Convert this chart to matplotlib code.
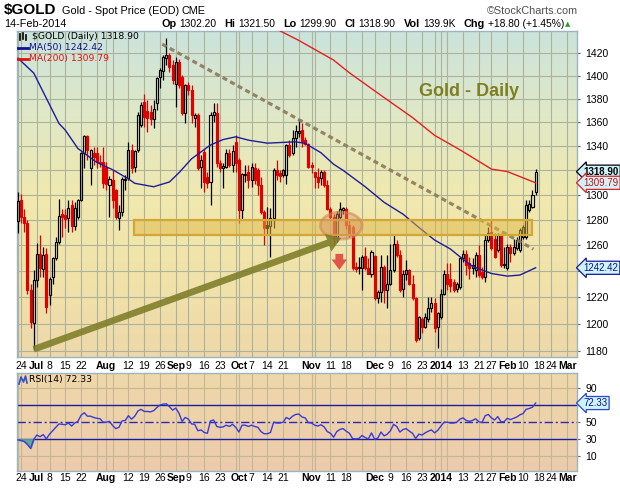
import numpy as np
import pandas as pd
import matplotlib
matplotlib.use("Agg")
import matplotlib.pyplot as plt
from matplotlib.patches import Rectangle, Ellipse
from matplotlib.lines import Line2D
from matplotlib.ticker import NullLocator
from matplotlib.colors import LinearSegmentedColormap
from matplotlib.transforms import blended_transform_factory

plt.rcParams["font.family"] = ["Liberation Sans", "DejaVu Sans"]

# trading days (US holidays left out), the chart runs on past the last bar
helligdager = ["2013-07-04", "2013-09-02", "2013-11-28", "2013-12-25",
               "2014-01-01", "2014-01-20", "2014-02-17"]
dager = pd.bdate_range("2013-06-21", "2014-03-07")
dager = dager[~dager.isin(pd.to_datetime(helligdager))]

# daily OHLC (21-Jun-2013 .. 14-Feb-2014)
apning = [1279.0, 1296.0, 1282.0, 1277.5, 1225.5, 1200.5, 1233.0, 1252.8, 1241.7, 1252.8,
          1221.5, 1235.4, 1249.7, 1262.2, 1285.0, 1283.7, 1281.8, 1291.8, 1275.0, 1282.4,
          1295.8, 1334.0, 1348.6, 1321.7, 1334.0, 1334.5, 1327.0, 1327.0, 1323.0, 1308.0,
          1312.0, 1303.8, 1281.8, 1286.4, 1312.0, 1313.4, 1336.6, 1323.0, 1336.6, 1357.6,
          1377.5, 1369.5, 1368.5, 1362.5, 1376.2, 1399.0, 1404.5, 1415.3, 1418.0, 1409.2,
          1393.0, 1412.0, 1399.0, 1367.5, 1391.8, 1387.5, 1363.7, 1366.1, 1323.0, 1335.3,
          1314.8, 1310.8, 1366.0, 1367.5, 1325.7, 1321.7, 1323.0, 1334.0, 1324.4, 1343.8,
          1328.4, 1287.7, 1316.0, 1318.3, 1312.0, 1321.7, 1320.2, 1308.0, 1286.4, 1276.0,
          1275.2, 1281.8, 1320.2, 1317.5, 1316.1, 1316.1, 1340.9, 1334.0, 1346.4, 1351.2,
          1353.5, 1345.0, 1342.2, 1324.4, 1318.5, 1314.8, 1313.4, 1319.0, 1308.0, 1289.0,
          1282.4, 1265.2, 1282.4, 1288.2, 1289.0, 1275.8, 1274.5, 1243.2, 1241.9, 1241.9,
          1251.4, 1241.9, 1238.0, 1251.4, 1219.0, 1223.9, 1243.2, 1225.2, 1230.1, 1240.6,
          1261.3, 1252.2, 1226.5, 1238.0, 1240.6, 1230.1, 1219.0, 1189.1, 1203.8, 1197.8,
          1203.8, 1211.5, 1215.2, 1197.8, 1205.1, 1222.7, 1237.5, 1234.0, 1231.4, 1226.5,
          1227.6, 1249.7, 1252.9, 1245.8, 1242.0, 1240.6, 1252.0, 1239.5, 1235.4, 1263.9,
          1270.6, 1265.2, 1256.0, 1267.9, 1244.9, 1241.9, 1258.8, 1253.5, 1257.4, 1256.0,
          1266.6, 1266.6, 1287.7, 1290.4, 1302.2]
hoy = [1302.4, 1301.0, 1289.0, 1280.0, 1230.0, 1240.5, 1261.7, 1268.0, 1258.8, 1257.5,
       1235.5, 1251.0, 1266.6, 1297.0, 1289.0, 1289.0, 1295.8, 1295.8, 1294.4, 1297.0,
       1335.3, 1349.0, 1349.0, 1338.0, 1339.5, 1339.5, 1332.5, 1339.5, 1327.0, 1315.0,
       1320.2, 1305.0, 1291.8, 1314.8, 1316.0, 1343.6, 1342.2, 1336.6, 1369.0, 1377.5,
       1384.5, 1379.0, 1374.6, 1379.0, 1399.0, 1406.6, 1418.0, 1433.6, 1419.5, 1413.5,
       1416.5, 1415.0, 1400.4, 1393.0, 1394.7, 1391.8, 1367.5, 1368.0, 1332.5, 1338.0,
       1318.8, 1369.0, 1376.0, 1376.2, 1328.4, 1325.7, 1338.0, 1338.0, 1341.0, 1349.2,
       1330.0, 1317.5, 1324.4, 1324.4, 1325.7, 1325.7, 1321.7, 1314.8, 1287.7, 1290.4,
       1289.1, 1321.7, 1328.4, 1320.2, 1321.0, 1342.2, 1345.0, 1353.4, 1357.6, 1362.4,
       1359.0, 1348.0, 1343.0, 1327.0, 1319.0, 1321.7, 1320.2, 1320.0, 1312.0, 1290.4,
       1285.0, 1287.4, 1294.4, 1290.4, 1290.0, 1279.7, 1275.8, 1247.0, 1250.8, 1252.2,
       1258.8, 1249.8, 1256.1, 1252.2, 1225.2, 1252.2, 1244.6, 1252.2, 1261.3, 1267.9,
       1263.8, 1256.1, 1240.6, 1248.4, 1241.5, 1236.8, 1220.0, 1206.0, 1205.1, 1207.6,
       1220.2, 1220.2, 1219.0, 1208.5, 1226.5, 1240.6, 1245.8, 1245.8, 1234.0, 1231.4,
       1251.0, 1256.1, 1256.1, 1251.0, 1249.7, 1254.8, 1260.0, 1243.3, 1267.9, 1274.5,
       1281.0, 1269.2, 1269.2, 1269.0, 1258.8, 1261.3, 1261.3, 1265.2, 1266.6, 1273.3,
       1275.8, 1295.8, 1295.8, 1303.8, 1321.5]
lav = [1269.3, 1277.5, 1270.6, 1222.0, 1196.5, 1180.5, 1227.8, 1235.5, 1235.5, 1207.6,
       1213.8, 1230.3, 1248.5, 1261.3, 1266.6, 1273.2, 1270.6, 1270.6, 1271.8, 1281.0,
       1295.0, 1321.7, 1328.4, 1308.0, 1324.4, 1321.7, 1323.0, 1305.2, 1303.8, 1282.4,
       1289.1, 1281.0, 1271.8, 1283.0, 1303.8, 1312.0, 1317.5, 1318.9, 1335.3, 1356.2,
       1356.2, 1352.1, 1357.6, 1354.8, 1370.4, 1389.0, 1396.0, 1409.2, 1403.5, 1393.0,
       1373.4, 1389.0, 1366.0, 1359.1, 1383.3, 1359.1, 1356.2, 1320.3, 1305.2, 1302.5,
       1305.2, 1291.8, 1360.0, 1323.0, 1319.0, 1305.2, 1321.7, 1323.0, 1319.0, 1319.0,
       1277.2, 1281.0, 1310.6, 1305.2, 1306.0, 1309.2, 1299.8, 1285.0, 1260.0, 1268.0,
       1250.8, 1273.2, 1312.0, 1310.6, 1314.8, 1309.2, 1331.2, 1333.0, 1339.5, 1348.0,
       1339.5, 1341.0, 1321.7, 1317.5, 1305.2, 1305.2, 1308.0, 1306.5, 1287.7, 1279.7,
       1260.0, 1262.7, 1281.0, 1285.0, 1273.0, 1266.5, 1240.6, 1239.3, 1238.0, 1225.2,
       1240.6, 1237.6, 1235.4, 1217.7, 1215.2, 1216.4, 1215.2, 1211.5, 1229.0, 1239.3,
       1250.9, 1223.9, 1220.2, 1232.9, 1229.0, 1217.7, 1186.6, 1187.8, 1192.8, 1196.5,
       1201.5, 1208.8, 1194.0, 1181.8, 1203.8, 1221.5, 1225.2, 1224.0, 1224.0, 1224.0,
       1226.5, 1247.0, 1236.8, 1234.1, 1238.0, 1235.4, 1235.4, 1234.1, 1231.4, 1262.5,
       1256.0, 1249.7, 1254.8, 1243.2, 1241.9, 1240.5, 1247.0, 1252.0, 1256.0, 1255.0,
       1265.2, 1265.2, 1286.4, 1289.1, 1299.9]
slutt = [1295.4, 1282.0, 1277.5, 1225.0, 1201.0, 1233.0, 1252.8, 1242.0, 1252.3, 1212.7,
         1233.4, 1249.7, 1262.2, 1283.2, 1282.4, 1281.0, 1289.1, 1275.0, 1289.1, 1295.8,
         1334.0, 1348.6, 1336.6, 1337.0, 1331.2, 1327.0, 1325.8, 1309.3, 1308.5, 1313.3,
         1295.8, 1282.4, 1286.4, 1312.6, 1313.3, 1336.6, 1321.7, 1335.8, 1366.1, 1374.6,
         1364.7, 1363.5, 1362.5, 1371.2, 1397.6, 1405.3, 1416.6, 1418.0, 1407.2, 1396.0,
         1412.0, 1391.8, 1367.5, 1391.8, 1387.5, 1366.1, 1366.1, 1321.7, 1328.4, 1310.8,
         1309.3, 1366.1, 1369.0, 1325.7, 1321.7, 1323.6, 1334.0, 1324.4, 1335.8, 1325.7,
         1287.7, 1316.9, 1317.0, 1312.0, 1322.5, 1312.0, 1308.0, 1286.4, 1273.2, 1273.5,
         1281.8, 1320.2, 1316.1, 1315.6, 1320.2, 1340.9, 1332.5, 1346.4, 1353.0, 1353.0,
         1343.8, 1342.2, 1323.0, 1322.5, 1314.8, 1310.8, 1319.0, 1308.0, 1289.0, 1282.4,
         1265.2, 1284.4, 1289.0, 1289.8, 1275.8, 1267.9, 1241.9, 1241.5, 1243.2, 1250.8,
         1241.9, 1238.0, 1254.8, 1219.0, 1223.9, 1243.2, 1225.2, 1230.1, 1240.6, 1261.3,
         1252.2, 1225.2, 1238.0, 1240.6, 1230.1, 1219.0, 1187.8, 1205.1, 1197.8, 1205.1,
         1211.5, 1215.2, 1196.5, 1207.6, 1222.7, 1238.0, 1230.2, 1228.5, 1225.2, 1230.2,
         1249.7, 1253.4, 1244.4, 1242.0, 1244.4, 1252.0, 1237.0, 1235.4, 1263.9, 1269.2,
         1257.4, 1250.8, 1267.9, 1244.4, 1245.6, 1258.8, 1253.5, 1258.8, 1263.9, 1271.9,
         1274.5, 1291.8, 1293.0, 1300.1, 1318.9]

# RSI(14) per day
rsi = [29.3, 28.7, 27.5, 24.0, 19.5, 30.0, 35.0, 33.0, 35.5, 30.5,
       36.0, 40.0, 44.0, 48.0, 47.5, 47.0, 49.0, 45.5, 49.0, 51.0,
       58.0, 61.0, 57.0, 57.0, 55.5, 54.5, 54.0, 50.0, 50.0, 51.0,
       46.0, 42.5, 44.0, 51.5, 52.0, 57.5, 53.5, 57.0, 63.0, 65.0,
       62.5, 62.5, 62.0, 63.5, 67.0, 70.0, 71.0, 71.5, 68.0, 64.0,
       66.5, 60.5, 51.0, 55.5, 53.5, 48.0, 47.5, 40.0, 41.0, 38.0,
       37.0, 51.5, 52.5, 45.0, 44.0, 44.5, 46.5, 45.0, 47.5, 44.0,
       38.5, 46.5, 46.5, 45.0, 46.5, 45.0, 44.0, 39.0, 36.5, 36.5,
       38.0, 50.0, 49.0, 49.0, 50.0, 55.5, 53.5, 57.0, 59.0, 59.5,
       56.0, 55.0, 49.5, 49.0, 46.5, 45.5, 47.0, 44.5, 39.0, 37.0,
       32.5, 39.0, 41.5, 42.5, 39.5, 37.0, 31.0, 30.5, 31.0, 34.5,
       32.0, 30.5, 37.5, 30.0, 31.5, 38.5, 34.0, 36.0, 40.0, 47.5,
       45.0, 38.5, 41.5, 42.5, 39.5, 37.0, 31.0, 36.0, 35.0, 37.5,
       39.5, 41.0, 37.5, 40.5, 45.5, 50.0, 50.0, 49.0, 49.0, 50.0,
       53.5, 55.0, 52.0, 51.0, 52.0, 54.0, 50.5, 49.5, 57.5, 59.0,
       55.0, 52.5, 56.5, 50.5, 50.5, 54.5, 53.0, 54.5, 56.0, 58.5,
       60.0, 65.0, 66.0, 67.5, 72.33]

# moving averages read at a few dates
ma50_datoer = ["2013-06-21", "2013-06-28", "2013-07-11", "2013-07-15", "2013-07-19", "2013-07-29",
               "2013-08-05", "2013-08-12", "2013-08-14", "2013-08-22", "2013-08-29", "2013-09-04",
               "2013-09-10", "2013-09-18", "2013-09-24", "2013-09-30", "2013-10-04", "2013-10-14",
               "2013-10-18", "2013-10-25", "2013-10-30", "2013-11-06", "2013-11-12", "2013-11-15",
               "2013-11-26", "2013-12-05", "2013-12-13", "2013-12-20", "2013-12-30", "2014-01-07",
               "2014-01-10", "2014-01-16", "2014-01-27", "2014-02-03", "2014-02-07", "2014-02-14"]
ma50_verdi = [1415.3, 1402.3, 1359.0, 1353.4, 1338.0, 1326.5, 1320.5, 1313.0, 1309.4, 1306.6,
              1310.5, 1318.0, 1329.5, 1341.0, 1345.5, 1347.8, 1345.0, 1342.5, 1343.0, 1343.6,
              1342.3, 1334.5, 1325.0, 1320.0, 1306.6, 1294.0, 1284.5, 1274.0, 1264.0, 1257.0,
              1251.0, 1243.5, 1238.0, 1236.0, 1236.8, 1242.42]
ma200_datoer = ["2013-10-17", "2013-10-28", "2013-11-12", "2013-11-19", "2013-12-04", "2013-12-18",
                "2013-12-30", "2014-01-10", "2014-01-27", "2014-02-03", "2014-02-14"]
ma200_verdi = [1441.0, 1431.0, 1413.6, 1402.5, 1383.0, 1364.0, 1349.0, 1337.0, 1321.0, 1319.0, 1309.79]

# x labels
tick_datoer = ["2013-06-24", "2013-07-01", "2013-07-08", "2013-07-15", "2013-07-22", "2013-08-01",
               "2013-08-12", "2013-08-19", "2013-08-26", "2013-09-03", "2013-09-09", "2013-09-16",
               "2013-09-23", "2013-10-01", "2013-10-07", "2013-10-14", "2013-10-21", "2013-11-01",
               "2013-11-11", "2013-11-18", "2013-12-02", "2013-12-09", "2013-12-16", "2013-12-23",
               "2014-01-02", "2014-01-13", "2014-01-21", "2014-01-27", "2014-02-03", "2014-02-10",
               "2014-02-18", "2014-02-24", "2014-03-03"]
tick_tekst = ["24", "Jul", "8", "15", "22", "Aug", "12", "19", "26", "Sep", "9", "16", "23",
              "Oct", "7", "14", "21", "Nov", "11", "18", "Dec", "9", "16", "23", "2014", "13",
              "21", "27", "Feb", "10", "18", "24", "Mar"]
fete = {"Jul", "Aug", "Sep", "Oct", "Nov", "Dec", "2014", "Feb", "Mar"}
pris_ticks = [1180, 1200, 1220, 1240, 1260, 1280, 1300, 1320, 1340, 1360, 1380, 1400, 1420]
skjulte = {1240, 1320}          # labels hidden behind the value tags
rsi_ticks = [10, 30, 50, 70, 90]

pos = {d: i for i, d in enumerate(dager)}


def ix(s):
    return pos[pd.Timestamp(s)]


# ---- figure -------------------------------------------------------------
W, H = 620, 488
fig = plt.figure(figsize=(W / 100, H / 100), dpi=100)


def fx(px):
    return px / W


def fy(py):
    return 1 - py / H


main_box = [fx(17), fy(356.7), fx(577) - fx(17), fy(30.7) - fy(356.7)]
rsi_box = [fx(17), fy(470.7), fx(577) - fx(17), fy(372.7) - fy(470.7)]


def bakgrunn(box, farger):
    bg = fig.add_axes(box, zorder=0)
    cmap = LinearSegmentedColormap.from_list("bg", farger)
    bg.imshow(np.linspace(0, 1, 256).reshape(-1, 1), aspect="auto", cmap=cmap,
              extent=[0, 1, 0, 1], origin="upper")
    bg.set_axis_off()


bakgrunn(main_box, ["#cbe3dc", "#dfe8c8", "#f0e9af", "#f1e3a9", "#eed8aa"])
bakgrunn(rsi_box, ["#efd8a9", "#eccbad"])

ax = fig.add_axes(main_box, zorder=1)
rx = fig.add_axes(rsi_box, zorder=1)
for a in (ax, rx):
    a.set_facecolor("none")
    for s in a.spines.values():
        s.set_color("#9db3bf")
        s.set_linewidth(1)

n = len(slutt)
x = np.arange(n)
xmin, xmax = -0.3, 177.1
grid_farge = "#adb39b"

# week / month grid lines
grid_pos = []
for i, d in enumerate(dager):
    if i == 0 or d.isocalendar()[1] != dager[i - 1].isocalendar()[1] or d.month != dager[i - 1].month:
        grid_pos.append(i)

# ---- price panel --------------------------------------------------------
ax.set_yscale("log")
ax.set_xlim(xmin, xmax)
ax.set_ylim(1175.6, 1439.7)
for g in grid_pos:
    ax.axvline(g, color=grid_farge, lw=0.8, zorder=1)
for t in pris_ticks:
    ax.axhline(t, color=grid_farge, lw=0.8, zorder=1)

o = np.array(apning)
h = np.array(hoy)
l = np.array(lav)
c = np.array(slutt)
forrige = np.r_[o[0], c[:-1]]
farge = np.where(c >= forrige, "black", "#e00000")
topp = np.maximum(o, c)
bunn = np.minimum(o, c)
fyll = [f if cc < oo else "none" for f, cc, oo in zip(farge, c, o)]
ax.vlines(x, l, bunn, colors=farge, lw=0.9, zorder=3)
ax.vlines(x, topp, h, colors=farge, lw=0.9, zorder=3)
ax.bar(x, np.maximum(topp - bunn, 0.5), bottom=bunn, width=0.64, color=fyll,
       edgecolor=farge, linewidth=0.85, zorder=3)

ax.plot([ix(d) for d in ma50_datoer], ma50_verdi, color="#1c1c9c", lw=1.0, zorder=4)
ax.plot([ix(d) for d in ma200_datoer], ma200_verdi, color="#e42020", lw=1.0, zorder=4)

# annotations drawn on the chart
ax.plot([45.7, 163.3], [1427.7, 1256.9], color="#8a7a5c", lw=2.3,
        ls=(0, (1.6, 1.1)), alpha=0.9, zorder=5, solid_capstyle="butt")
ax.add_patch(Rectangle((36.7, 1268.3), 162.8 - 36.7, 1280.2 - 1268.3,
                       facecolor=(0.88, 0.72, 0.28, 0.5), edgecolor="#d4a636",
                       lw=1.6, zorder=5))
ax.add_patch(Ellipse((102.4, 1275.5), 13.2, 21.5, facecolor=(0.84, 0.56, 0.38, 0.42),
                     edgecolor=(0.80, 0.52, 0.34, 0.55), lw=2, zorder=6))
ax.annotate("", xy=(102.4, 1265.6), xytext=(5, 1181),
            arrowprops=dict(arrowstyle="simple,head_length=1.0,head_width=1.35,tail_width=0.48",
                            fc="#7d7d28", ec="none", alpha=0.88, shrinkA=0, shrinkB=0,
                            mutation_scale=10), zorder=7)
ax.annotate("", xy=(101.8, 1240.8), xytext=(101.8, 1253.2),
            arrowprops=dict(arrowstyle="simple,head_length=0.75,head_width=1.1,tail_width=0.55",
                            fc="#e2463c", ec="none", alpha=0.9, shrinkA=0, shrinkB=0,
                            mutation_scale=10), zorder=7)

ax.yaxis.tick_right()
ax.set_yticks(pris_ticks)
ax.set_yticklabels(["" if t in skjulte else str(t) for t in pris_ticks])
ax.yaxis.set_minor_locator(NullLocator())
ax.tick_params(axis="y", length=2, pad=4, labelsize=7.5, color="#666666")

# ---- RSI panel ----------------------------------------------------------
r = np.array(rsi)
rx.set_xlim(xmin, xmax)
rx.set_ylim(-6.6, 107.7)
for g in grid_pos:
    rx.axvline(g, color="#c4b796", lw=0.8, zorder=1)
for t in (10, 90):
    rx.axhline(t, color="#c4b796", lw=0.8, zorder=1)
rx.axhline(70, color="#1c1ca0", lw=1.0, zorder=2)
rx.axhline(30, color="#1c1ca0", lw=1.0, zorder=2)
rx.axhline(50, color="#2a2ab0", lw=1.0, ls=(0, (6, 2, 1.5, 2)), zorder=2)
rx.fill_between(x, r, 30, where=r < 30, interpolate=True, color="#62a69c", zorder=2)
rx.plot(x, r, color="#3a3ad8", lw=1.0, zorder=3)
rx.yaxis.tick_right()
rx.set_yticks(rsi_ticks)
rx.set_yticklabels(["" if t == 70 else str(t) for t in rsi_ticks])
rx.yaxis.set_minor_locator(NullLocator())
rx.tick_params(axis="y", length=2, pad=4, labelsize=7.5, color="#666666")

tick_pos = [ix(d) for d in tick_datoer]
for a, pad in ((ax, 3), (rx, 2)):
    a.set_xticks(tick_pos)
    a.set_xticklabels(tick_tekst)
    a.tick_params(axis="x", length=0, pad=pad, labelsize=7.5)
    for lab in a.get_xticklabels():
        if lab.get_text() in fete:
            lab.set_fontweight("bold")


# value tags at the right edge
def tag(a, verdi, tekst, fg, kant, fet=False):
    tr = blended_transform_factory(a.transAxes, a.transData)
    a.text(1.0115, verdi, tekst, transform=tr, ha="left", va="center", fontsize=7,
           color=fg, fontweight="bold" if fet else "normal", clip_on=False, zorder=20,
           bbox=dict(boxstyle="larrow,pad=0.16", fc="#cdf3fb", ec=kant, lw=0.9))


tag(ax, 1318.90, "1318.90", "black", "black", fet=True)
tag(ax, 1309.79, "1309.79", "#d01010", "#e02020")
tag(ax, 1242.42, "1242.42", "#101090", "#18189a")
tag(rx, 72.33, "72.33", "#101090", "#2848d0")


# ---- texts --------------------------------------------------------------
def ftekst(px, py, s, **kw):
    return fig.text(fx(px), fy(py), s, va="center", **kw)


ftekst(4, 10, "$GOLD", fontsize=11, fontweight="bold")
ftekst(62, 10.5, "Gold - Spot Price (EOD)", fontsize=7.8)
ftekst(181, 10.5, "CME", fontsize=7.8)
ftekst(578, 10.5, "\u00a9StockCharts.com", fontsize=7.8, color="#505050", ha="right")
ftekst(4, 24, "14-Feb-2014", fontsize=7.8)

# quote line: label / value pairs laid out left to right
deler = [("Op", "1302.20"), ("Hi", "1321.50"), ("Lo", "1299.90"), ("Cl", "1318.90"),
         ("Vol", "139.9K"), ("Chg", "+18.80 (+1.45%)")]
renderer = fig.canvas.get_renderer()
px = 161
for etikett, verdi in deler:
    t = ftekst(px, 24, etikett, fontsize=7.8, fontweight="bold")
    px += t.get_window_extent(renderer).width + 3
    t = ftekst(px, 24, verdi, fontsize=7.4)
    px += t.get_window_extent(renderer).width + 8
ftekst(px - 4, 24, "\u25b2", fontsize=5, color="#2e9e2e", ha="center", family="DejaVu Sans")

ftekst(31.5, 36.8, "$GOLD (Daily) 1318.90", fontsize=6.7, family="DejaVu Sans")
ftekst(29.5, 47.8, "MA(50) 1242.42", fontsize=6.7, family="DejaVu Sans", color="#10109a")
ftekst(29.5, 58.6, "MA(200) 1309.79", fontsize=6.7, family="DejaVu Sans", color="#e01010")
ftekst(29.5, 379.5, "RSI(14) 72.33", fontsize=6.7, family="DejaVu Sans")
ftekst(469, 92, "Gold - Daily", fontsize=13, fontweight="bold", color="#7e7e22", ha="center")

# small legend swatches and icons
fig.add_artist(Line2D([fx(17.5), fx(28)], [fy(47.8), fy(47.8)], color="#10109a", lw=2))
fig.add_artist(Line2D([fx(17.5), fx(28)], [fy(58.6), fy(58.6)], color="#e01010", lw=2))
for ix_px, y0, y1 in ((20, 34, 40), (23, 33, 39), (26, 35, 40)):
    fig.add_artist(Line2D([fx(ix_px), fx(ix_px)], [fy(y0), fy(y1)], color="black", lw=1.2))
fig.add_artist(Line2D([fx(19), fx(21), fx(23.5), fx(25.5), fx(27)],
                      [fy(384), fy(377), fy(382), fy(376), fy(383)], color="#3050d0", lw=1.2))

fig.savefig("out.png", dpi=100)
